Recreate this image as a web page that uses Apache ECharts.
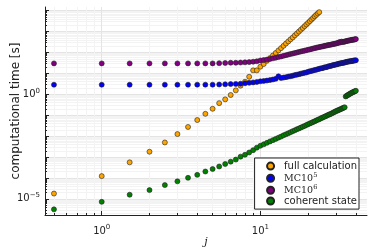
<!DOCTYPE html>
<html><head><meta charset="utf-8">
<script src="https://cdn.jsdelivr.net/npm/echarts@6/dist/echarts.min.js"></script>
<style>html,body{margin:0;padding:0;background:#fff}#c{width:374px;height:249px}</style>
</head><body><div id="c"></div>
<script>
const J = [0.5,1,1.5,2,2.5,3,3.5,4,4.5,5,5.5,6,6.5,7,7.5,8,8.5,9,9.5,10,
  10.5,11,11.5,12,12.5,13,13.5,14,14.5,15,15.5,16,16.5,17,17.5,18,18.5,19,19.5,20,
  20.5,21,21.5,22,22.5,23,23.5,24,24.5,25,25.5,26,26.5,27,27.5,28,28.5,29,29.5,30,
  30.5,31,31.5,32,32.5,33,33.5,34,34.5,35,35.5,36,36.5,37,37.5,38,38.5,39,39.5,40];
const fullCalc = [1.8e-5,1.23e-4,5.6e-4,1.8e-3,5.0e-3,1.26e-2,2.75e-2,5.9e-2,0.117,0.204,
  0.38,0.575,0.93,1.55,2.6,4.0,6.9,14,14,21,
  28,40,54,72,95,126,162,209,269,339,
  427,525,660,813,1000,1230,1480,1820,2190,2630,
  3160,3800,4470,5370,6310,7410,8510];
const mc5 = [2.88,2.88,2.88,2.88,2.88,2.88,2.88,2.9,2.9,2.9,
  2.95,3.02,3.09,3.16,3.24,3.39,3.55,3.72,3.89,4.17,
  4.37,4.57,4.79,5.13,5.50,7.24,6.03,6.31,6.61,7.08,
  7.41,7.76,8.32,8.71,9.12,9.77,10.2,10.7,11.2,12.0,
  12.6,13.2,13.8,14.5,15.1,15.8,16.6,17.4,17.8,18.6,
  19.5,20.0,20.9,21.9,22.4,23.4,24.5,25.1,25.7,26.9,
  27.5,28.8,29.5,30.2,31.6,31.6,32.4,33.1,34.7,35.5,
  36.3,37.2,38.0,38.0,38.9,39.8,40.7,41.7,41.7,42.7];
const mc6 = [30.2,30.2,30.2,30.2,30.2,30.2,30.2,30.2,30.2,30.2,
  30.9,31.6,32.4,32.4,33.1,33.9,34.7,36.3,38.0,41.7,
  43.7,45.7,49.0,52.5,56.2,60.3,64.6,69.2,74.1,79.4,
  85.1,89.1,95.5,100,107,112,117,123,129,135,
  141,148,155,162,170,174,182,186,195,200,
  209,214,224,229,234,240,251,257,263,269,
  282,288,316,302,331,316,324,331,347,355,
  363,372,380,389,398,407,407,417,427,437];
const coherent = [3.16e-6,7.24e-6,1.585e-5,2.63e-5,4.57e-5,6.92e-5,1.02e-4,1.41e-4,2.04e-4,2.69e-4,
  3.55e-4,4.68e-4,6.03e-4,7.59e-4,1.05e-3,1.29e-3,1.66e-3,2.14e-3,2.82e-3,3.47e-3,
  4.07e-3,4.79e-3,5.62e-3,6.46e-3,7.41e-3,8.51e-3,9.55e-3,1.10e-2,1.23e-2,1.38e-2,
  1.55e-2,1.74e-2,1.91e-2,2.14e-2,2.34e-2,2.57e-2,2.82e-2,3.09e-2,3.39e-2,3.72e-2,
  4.07e-2,4.37e-2,4.79e-2,5.13e-2,5.62e-2,6.03e-2,6.46e-2,7.08e-2,7.59e-2,8.13e-2,
  8.71e-2,9.33e-2,0.100,0.107,0.112,0.120,0.129,0.138,0.146,0.158,
  0.166,0.174,0.186,0.195,0.204,0.219,0.229,0.240,
  0.794,0.851,0.912,0.977,1.047,1.096,1.175,1.23,1.288,1.349,1.413,1.479];
const seriesNames = ['full calculation','MC10^5','MC10^6','coherent state'];
const colors = ['#FFA500','#0000FF','#800080','#008000'];
const xTickLabels = [1, 10];
const yTickLabels = [1e-5, 1];
const X_MIN = 0.439, X_MAX = 47, Y_MIN = 1.7e-6, Y_MAX = 1.5e4;

const xMajor = [1, 10];
const xMinor = [];
[0.1, 1, 10].forEach(d => { for (let m = 2; m <= 9; m++) { const v = +(m*d).toPrecision(3); if (v > X_MIN && v < X_MAX) xMinor.push(v); } });
const yMajor = [];
for (let k = -5; k <= 4; k++) yMajor.push(Number('1e' + k));
const yMinor = [];
for (let k = -6; k <= 4; k++) for (let m = 2; m <= 9; m++) { const v = Number(m + 'e' + k); if (v > Y_MIN && v < Y_MAX) yMinor.push(v); }

function pow10Label(v) {
  const e = Math.round(Math.log10(v));
  const es = e < 0 ? '\u2212' + (-e) : String(e);
  return '{b|10}{s|' + es + '}';
}
const richLbl = {
  b: { fontSize: 10, fontFamily: 'DejaVu Sans', color: '#222' },
  s: { fontSize: 7, fontFamily: 'DejaVu Sans', color: '#222', padding: [0, 0, 7, 0] }
};

const pairs = (ys) => ys.map((y, i) => [J[i], y]);
const dataArr = [pairs(fullCalc), pairs(mc5), pairs(mc6), pairs(coherent)];

const chart = echarts.init(document.getElementById('c'), null, { renderer: 'canvas' });
const gridLine = { show: true, lineStyle: { color: '#e4e4e4', width: 1 } };
const minorLine = { show: true, lineStyle: { color: '#f3f3f3', width: 1 } };
chart.setOption({
  animation: false,
  backgroundColor: '#fff',
  grid: { left: 45, right: 7, top: 7, bottom: 34, containLabel: false, outerBoundsMode: 'none' },
  xAxis: [
    { type: 'log', min: X_MIN, max: X_MAX, name: 'j', nameLocation: 'middle', nameGap: 22, nameMoveOverlap: false,
      nameTextStyle: { fontFamily: 'DejaVu Serif', fontStyle: 'italic', fontSize: 11, color: '#222' },
      axisLine: { show: true, lineStyle: { color: '#222', width: 1 } },
      axisTick: { show: true, inside: true, length: 4, customValues: xMajor, lineStyle: { color: '#222' } },
      axisLabel: { customValues: xTickLabels, formatter: pow10Label, rich: richLbl, margin: 9 },
      splitLine: gridLine },
    { type: 'log', min: X_MIN, max: X_MAX, position: 'bottom',
      axisLine: { show: false },
      axisTick: { show: true, inside: true, length: 2, customValues: xMinor, lineStyle: { color: '#222' } },
      axisLabel: { show: false },
      splitLine: minorLine }
  ],
  yAxis: [
    { type: 'log', min: Y_MIN, max: Y_MAX, name: 'computational time [s]', nameLocation: 'middle', nameGap: 23, nameMoveOverlap: false,
      nameTextStyle: { fontFamily: 'DejaVu Sans', fontSize: 12, color: '#222' },
      axisLine: { show: true, lineStyle: { color: '#222', width: 1 } },
      axisTick: { show: true, inside: true, length: 4, customValues: yMajor, lineStyle: { color: '#222' } },
      axisLabel: { customValues: yTickLabels, formatter: pow10Label, rich: richLbl, margin: 5 },
      splitLine: gridLine },
    { type: 'log', min: Y_MIN, max: Y_MAX, position: 'left',
      axisLine: { show: false },
      axisTick: { show: true, inside: true, length: 2, customValues: yMinor, lineStyle: { color: '#222' } },
      axisLabel: { show: false },
      splitLine: minorLine }
  ],
  legend: {
    orient: 'vertical', right: 15, top: 158,
    backgroundColor: '#fff', borderColor: '#222', borderWidth: 1, borderRadius: 0,
    padding: [3, 2, 3, 11.5], itemGap: 0.5, itemWidth: 7, itemHeight: 7,
    icon: 'circle',
    textStyle: { fontSize: 10, fontFamily: 'DejaVu Sans', color: '#222', lineHeight: 10.2, padding: [0, 0, 0, 5],
      rich: {
        m: { fontFamily: 'DejaVu Serif', fontSize: 9.5, color: '#222' },
        s: { fontFamily: 'DejaVu Serif', fontSize: 6.5, color: '#222', padding: [0, 0, 6, 0] }
      } },
    formatter: function (n) {
      const mm = n.match(/^MC10\^(\d)$/);
      if (mm) return '{m|MC10}{s|' + mm[1] + '}';
      return n;
    },
    data: seriesNames
  },
  series: seriesNames.map((n, i) => ({
    name: n, type: 'scatter', xAxisIndex: 0, yAxisIndex: 0,
    data: dataArr[i], symbol: 'circle', symbolSize: 5,
    itemStyle: { color: colors[i], borderColor: '#222', borderWidth: 0.6, opacity: 1 }
  }))
});
</script></body></html>
